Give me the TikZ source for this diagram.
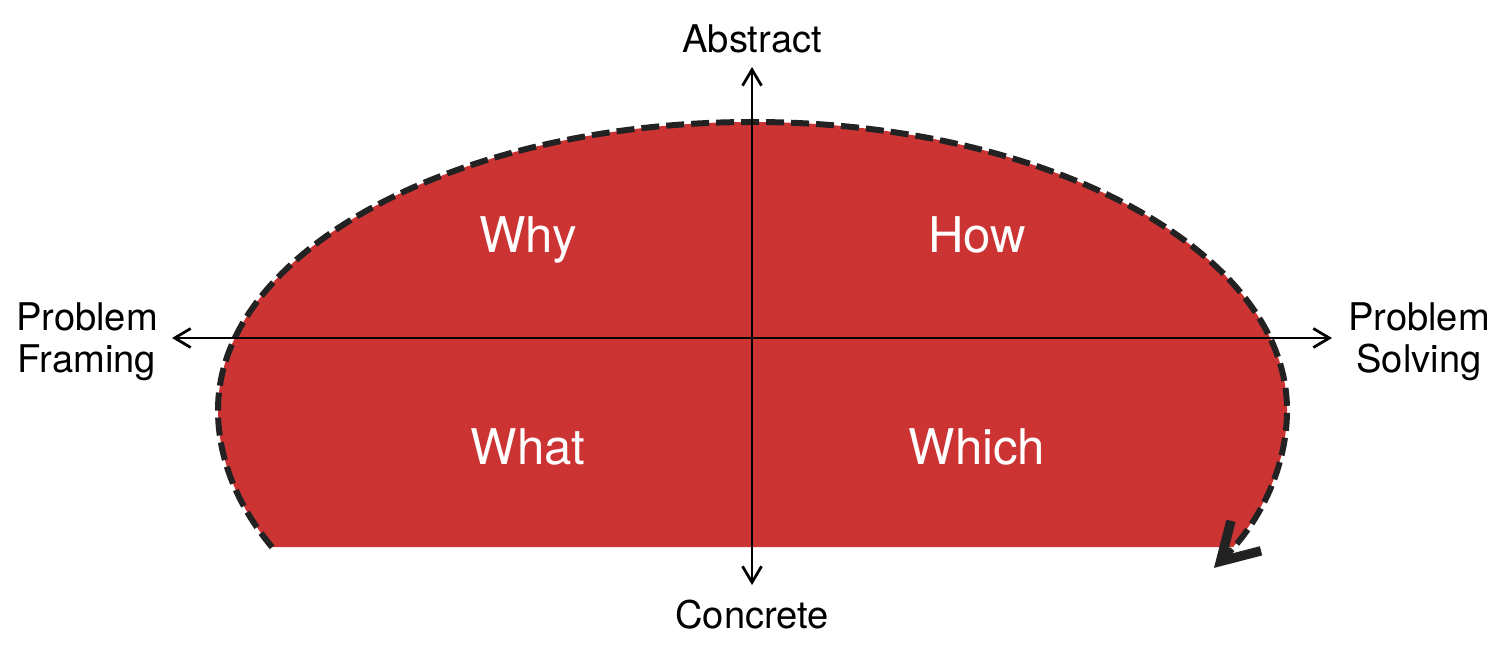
\documentclass[tikz,border=0pt]{standalone}
\usepackage{fontspec}
\setmainfont{TeX Gyre Heros}
\usetikzlibrary{arrows.meta}
\definecolor{fillred}{RGB}{204,51,51}
\definecolor{dashgray}{RGB}{34,34,34}
\begin{document}
\begin{tikzpicture}[x=0.02cm,y=-0.02cm,
  quad/.style={text=white,font=\fontsize{28}{32}\selectfont,anchor=base,inner sep=0pt},
  axlabel/.style={text=black,font=\fontsize{21.7}{24}\selectfont,align=center,inner sep=0pt},
  axisline/.style={line width=0.045cm,
    {Straight Barb[length=0.32cm,width=0.38cm,line width=0.055cm]}-{Straight Barb[length=0.32cm,width=0.38cm,line width=0.055cm]}},
  outline/.style={draw=dashgray,line width=0.12cm,dash pattern=on 0.36cm off 0.14cm,
    -{Straight Barb[length=0.72cm,width=0.85cm,line width=0.19cm]}},
  blob/.style={fill=fillred}
]
\useasboundingbox (0,0) rectangle (1506,651);

% filled shape
\fill[blob] (752.5,410) ++(154:534.5 and 313)
  arc[start angle=154,end angle=180,x radius=534.5,y radius=313]
  arc[start angle=180,end angle=360,x radius=534.5,y radius=288]
  arc[start angle=0,end angle=26,x radius=534.5,y radius=313] -- cycle;

% dashed outline with arrow
\draw[outline] (752.5,410) ++(154:534.5 and 313)
  arc[start angle=154,end angle=180,x radius=534.5,y radius=313]
  arc[start angle=180,end angle=360,x radius=534.5,y radius=288]
  arc[start angle=0,end angle=30.3,x radius=534.5,y radius=313];

% axis end points
\coordinate (top) at (752,67);
\coordinate (bottom) at (752,585);
\coordinate (left) at (172,338);
\coordinate (right) at (1332,338);

\draw[axisline] (top) -- (bottom);
\draw[axisline] (left) -- (right);

% quadrant labels
\node[quad] (why) at (528,253) {Why};
\node[quad] (how) at (977,253) {How};
\node[quad] (what) at (528,464) {What};
\node[quad] (which) at (977,464) {Which};

% axis labels
\node[axlabel,anchor=base] (abstract) at (752,53) {Abstract};
\node[axlabel,anchor=base] (concrete) at (752,628) {Concrete};
\node[axlabel] (framing) at (87,342) {Problem\\Framing};
\node[axlabel] (solving) at (1419,342) {Problem\\Solving};
\end{tikzpicture}
\end{document}
